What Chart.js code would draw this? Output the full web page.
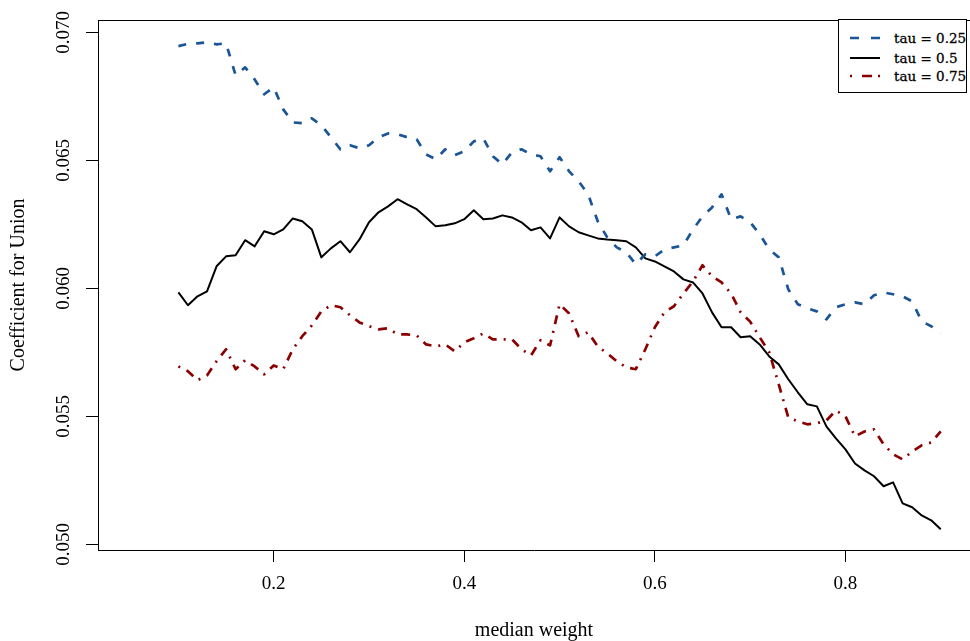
<!DOCTYPE html>
<html>
<head>
<meta charset="utf-8">
<script src="https://cdn.jsdelivr.net/npm/chart.js@4/dist/chart.umd.min.js"></script>
<style>
  html, body { margin: 0; padding: 0; background: #fff; overflow: hidden; }
  #wrap { position: relative; width: 970px; height: 641px; }
  #legend { position: absolute; left: 838px; top: 19px; width: 129px; height: 74px;
            border: 1px solid #000; background: #fff; box-sizing: border-box;
            font-family: 'DejaVu Serif', serif; font-size: 13.5px; color: #000;
            -webkit-text-stroke: 0.3px #000; }
  .row { position: absolute; left: 0; height: 20px; line-height: 20px; white-space: nowrap; }
  .row svg { position: absolute; left: 11px; top: 8px; }
  .row span { position: absolute; left: 55px; top: 0; }
</style>
</head>
<body>
<div id="wrap">
  <canvas id="c" width="970" height="641"></canvas>
  <div id="legend"></div>
</div>
<script>
// ---- data ----
const xValues = [0.10,0.11,0.12,0.13,0.14,0.15,0.16,0.17,0.18,0.19,
  0.20,0.21,0.22,0.23,0.24,0.25,0.26,0.27,0.28,0.29,
  0.30,0.31,0.32,0.33,0.34,0.35,0.36,0.37,0.38,0.39,
  0.40,0.41,0.42,0.43,0.44,0.45,0.46,0.47,0.48,0.49,
  0.50,0.51,0.52,0.53,0.54,0.55,0.56,0.57,0.58,0.59,
  0.60,0.61,0.62,0.63,0.64,0.65,0.66,0.67,0.68,0.69,
  0.70,0.71,0.72,0.73,0.74,0.75,0.76,0.77,0.78,0.79,
  0.80,0.81,0.82,0.83,0.84,0.85,0.86,0.87,0.88,0.89,
  0.90];

const tau25 = [0.06946,0.06955,0.06957,0.06961,0.06953,0.06957,0.06832,0.06863,0.06816,0.06758,
  0.06785,0.06699,0.06648,0.06645,0.06664,0.06637,0.06590,0.06543,0.06559,0.06547,
  0.06559,0.06590,0.06605,0.06602,0.06590,0.06582,0.06523,0.06504,0.06543,0.06520,
  0.06535,0.06574,0.06586,0.06516,0.06484,0.06531,0.06543,0.06523,0.06516,0.06457,
  0.06512,0.06457,0.06418,0.06367,0.06262,0.06199,0.06160,0.06141,0.06094,0.06133,
  0.06125,0.06152,0.06160,0.06168,0.06230,0.06281,0.06316,0.06367,0.06270,0.06281,
  0.06258,0.06211,0.06152,0.06121,0.05996,0.05938,0.05922,0.05910,0.05879,0.05926,
  0.05938,0.05945,0.05938,0.05973,0.05984,0.05977,0.05969,0.05949,0.05871,0.05852,
  0.05824];

const tau50 = [0.05984,0.05934,0.05969,0.05988,0.06086,0.06125,0.06129,0.06188,0.06164,0.06223,
  0.06211,0.06230,0.06273,0.06262,0.06230,0.06121,0.06156,0.06184,0.06141,0.06191,
  0.06258,0.06297,0.06320,0.06348,0.06328,0.06309,0.06277,0.06242,0.06246,0.06254,
  0.06270,0.06305,0.06270,0.06273,0.06285,0.06277,0.06258,0.06227,0.06238,0.06195,
  0.06277,0.06242,0.06219,0.06207,0.06195,0.06191,0.06188,0.06184,0.06160,0.06117,
  0.06105,0.06086,0.06066,0.06035,0.06023,0.05980,0.05906,0.05848,0.05848,0.05809,
  0.05813,0.05781,0.05734,0.05703,0.05645,0.05594,0.05547,0.05539,0.05461,0.05414,
  0.05371,0.05316,0.05289,0.05266,0.05227,0.05242,0.05160,0.05145,0.05113,0.05094,
  0.05059];

const tau75 = [0.05695,0.05676,0.05641,0.05660,0.05715,0.05762,0.05684,0.05719,0.05695,0.05664,
  0.05699,0.05684,0.05762,0.05813,0.05855,0.05910,0.05934,0.05926,0.05895,0.05867,
  0.05852,0.05840,0.05844,0.05820,0.05820,0.05816,0.05781,0.05773,0.05781,0.05754,
  0.05789,0.05805,0.05824,0.05801,0.05801,0.05801,0.05762,0.05738,0.05797,0.05777,
  0.05938,0.05902,0.05813,0.05828,0.05773,0.05746,0.05715,0.05691,0.05684,0.05762,
  0.05848,0.05906,0.05930,0.05980,0.06027,0.06090,0.06047,0.06023,0.05980,0.05906,
  0.05870,0.05809,0.05750,0.05625,0.05496,0.05480,0.05469,0.05473,0.05484,0.05523,
  0.05500,0.05422,0.05441,0.05449,0.05391,0.05352,0.05332,0.05363,0.05387,0.05398,
  0.05441];

const seriesNames = ['tau = 0.25', 'tau = 0.5', 'tau = 0.75'];
const xTickValues = [0.2, 0.4, 0.6, 0.8];
const xTickLabels = ['0.2', '0.4', '0.6', '0.8'];
const yTickValues = [0.050, 0.055, 0.060, 0.065, 0.070];
const yTickLabels = ['0.050', '0.055', '0.060', '0.065', '0.070'];
const xTitle = 'median weight';
const yTitle = 'Coefficient for Union';

// ---- styles ----
const colors = ['#1b5595', '#000000', '#8b0000'];
const plotDash = [[8, 10], [], [2, 7, 9, 7]];
const legendDash = ['9 12', '', '2 10 10 6 2'];
const widths = [2.7, 2, 2.7];

const allSeries = [tau25, tau50, tau75];
const datasets = allSeries.map((vals, i) => ({
  label: seriesNames[i],
  data: vals.map((v, j) => ({ x: xValues[j], y: v })),
  borderColor: colors[i],
  backgroundColor: colors[i],
  borderWidth: widths[i],
  borderDash: plotDash[i],
  borderCapStyle: 'butt',
  borderJoinStyle: 'round',
  pointRadius: 0,
  pointHoverRadius: 0,
  tension: 0,
  fill: false
}));

const serif = "'Liberation Serif', 'Times New Roman', serif";

const topBorder = {
  id: 'topBorder',
  afterDraw(chart) {
    const { ctx, chartArea } = chart;
    ctx.save();
    ctx.strokeStyle = '#000';
    ctx.lineWidth = 1;
    ctx.beginPath();
    const y = Math.round(chartArea.top) + 0.5;
    ctx.moveTo(chartArea.left, y);
    ctx.lineTo(chartArea.right, y);
    ctx.stroke();
    ctx.restore();
  }
};

new Chart(document.getElementById('c'), {
  type: 'line',
  data: { datasets },
  options: {
    responsive: false,
    animation: false,
    devicePixelRatio: 1,
    layout: { padding: { left: 0, top: 20, right: 0, bottom: 0 } },
    plugins: { legend: { display: false }, tooltip: { enabled: false } },
    events: [],
    scales: {
      x: {
        type: 'linear',
        min: 0.0156,
        max: 0.9307,
        afterBuildTicks: s => { s.ticks = xTickValues.map(v => ({ value: v })); },
        afterFit: s => { s.height = 91; },
        ticks: {
          callback: (v, i) => xTickLabels[i],
          font: { family: serif, size: 19, lineHeight: 1 },
          color: '#000',
          padding: 13,
          maxRotation: 0,
          autoSkip: false
        },
        grid: { display: true, drawOnChartArea: false, drawTicks: true, tickLength: 12, color: '#000', lineWidth: 1 },
        border: { display: true, color: '#000', width: 1 },
        title: { display: true, text: xTitle, color: '#000',
                 font: { family: serif, size: 20, lineHeight: 1 }, padding: { top: 0, bottom: 0 } }
      },
      y: {
        type: 'linear',
        min: 0.04978,
        max: 0.07048,
        afterBuildTicks: s => { s.ticks = yTickValues.map(v => ({ value: v })); },
        afterFit: s => { s.width = 98; },
        ticks: {
          callback: (v, i) => yTickLabels[i],
          font: { family: serif, size: 19, lineHeight: 1 },
          color: '#000',
          padding: 1,
          minRotation: 90,
          maxRotation: 90,
          crossAlign: 'center',
          autoSkip: false
        },
        grid: { display: true, drawOnChartArea: false, drawTicks: true, tickLength: 12, color: '#000', lineWidth: 1 },
        border: { display: true, color: '#000', width: 1 },
        title: { display: true, text: yTitle, color: '#000',
                 font: { family: serif, size: 20, lineHeight: 1 }, padding: { top: 8.5, bottom: 0 } }
      }
    }
  },
  plugins: [topBorder]
});

// ---- legend (HTML, built from the series arrays) ----
const legend = document.getElementById('legend');
const rowTops = [8, 28, 46];
seriesNames.forEach((name, i) => {
  const row = document.createElement('div');
  row.className = 'row';
  row.style.top = rowTops[i] + 'px';
  row.style.width = '100%';
  const svgNS = 'http://www.w3.org/2000/svg';
  const svg = document.createElementNS(svgNS, 'svg');
  svg.setAttribute('width', '32');
  svg.setAttribute('height', '4');
  const ln = document.createElementNS(svgNS, 'line');
  ln.setAttribute('x1', '0'); ln.setAttribute('y1', '2');
  ln.setAttribute('x2', '30'); ln.setAttribute('y2', '2');
  ln.setAttribute('stroke', colors[i]);
  ln.setAttribute('stroke-width', widths[i]);
  if (legendDash[i]) ln.setAttribute('stroke-dasharray', legendDash[i]);
  svg.appendChild(ln);
  const span = document.createElement('span');
  span.textContent = name;
  row.appendChild(svg);
  row.appendChild(span);
  legend.appendChild(row);
});
</script>
</body>
</html>
